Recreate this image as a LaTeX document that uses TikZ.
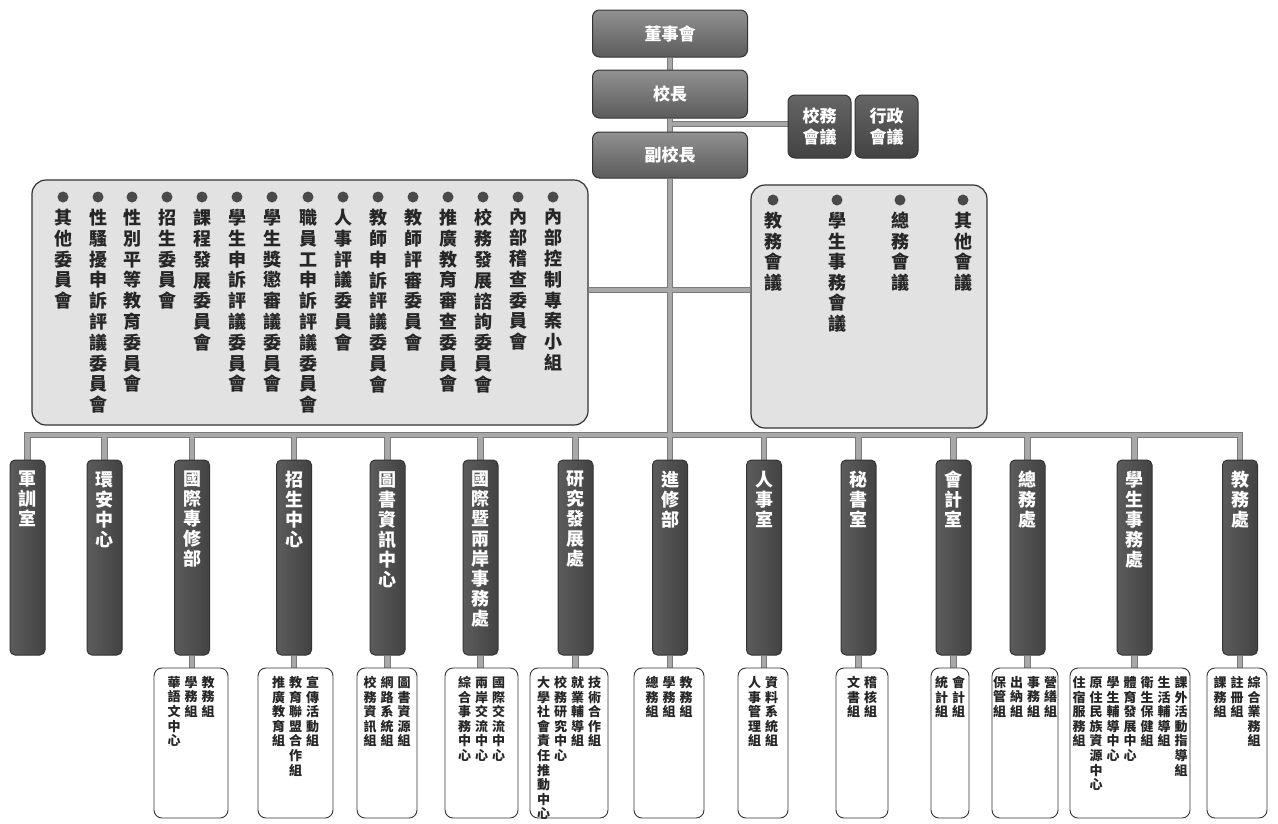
\documentclass[tikz,border=0pt]{standalone}
\usepackage{fontspec}
\setmainfont{Noto Sans CJK TC}
\usetikzlibrary{backgrounds}
\definecolor{conn}{HTML}{A8A8A8}
\definecolor{connD}{HTML}{7A7A7A}
\definecolor{deptC}{HTML}{4A4A4A}
\definecolor{topC}{HTML}{6C6C6C}
\definecolor{panelC}{HTML}{E2E2E2}
\definecolor{edgeC}{HTML}{333333}
\ExplSyntaxOn
\NewDocumentCommand \VT { O{1.1em} m }
 {
   \tl_set:Nx \l_tmpa_tl {#2}
   \vbox_top:n
    {
      \skip_set:Nn \baselineskip {#1}
      \dim_set:Nn \lineskiplimit {-100pt}
      \tl_map_inline:Nn \l_tmpa_tl { \hbox_to_wd:nn {1em} { \hss ##1 \hss } }
    }
 }
\NewDocumentCommand \SC { m }
 {
   \clist_set:Nn \l_tmpa_clist {#1}
   \int_zero:N \l_tmpa_int
   \clist_map_inline:Nn \l_tmpa_clist
     {
       \int_compare:nNnT \l_tmpa_int > 0 { \hspace*{4pt} }
       \int_incr:N \l_tmpa_int
       \VT[14.6pt]{##1}
     }
 }
\ExplSyntaxOff
\tikzset{
  topbox/.style={draw=edgeC, line width=1pt, rounded corners=7pt,
    top color=topC!75!white, bottom color=topC!85!black, text=white,
    font=\bfseries\fontsize{17}{20}\selectfont, minimum width=155pt, inner sep=0pt},
  sidebox/.style={draw=edgeC, line width=1pt, rounded corners=7pt,
    top color=deptC!85!white, bottom color=deptC!90!black, text=white, align=center,
    font=\bfseries\fontsize{17}{21}\selectfont, minimum width=63pt, minimum height=63pt, inner sep=0pt},
  dept/.style={draw=edgeC, line width=1pt, rounded corners=5pt,
    left color=deptC!90!white, right color=deptC!90!black, minimum width=35pt, minimum height=195pt, inner sep=0pt},
  depttext/.style={text=white, font=\bfseries\fontsize{18}{20}\selectfont, inner sep=0pt, anchor=north},
  panel/.style={draw=edgeC, line width=1.2pt, fill=panelC, rounded corners=14pt, inner sep=0pt},
  ptext/.style={text=black!85, font=\bfseries\fontsize{18}{21}\selectfont, inner sep=0pt, anchor=north},
  bullet/.style={circle, fill=deptC, minimum size=11pt, inner sep=0pt},
  subbox/.style={draw=edgeC, line width=0.9pt, fill=white, rounded corners=8pt, minimum height=150pt, inner sep=0pt},
  stext/.style={font=\bfseries\fontsize{13}{15}\selectfont, inner sep=0pt, anchor=north, text=black!85},
}
\begin{document}
\begin{tikzpicture}[x=1pt,y=-1pt]
\useasboundingbox (0,0) rectangle (1278,823);
% top
\node[topbox, minimum height=47pt] (board) at (670,33.5) {董事會};
\node[topbox, minimum height=48pt] (pres) at (670,94) {校長};
\node[topbox, minimum height=46pt] (vp) at (670,155) {副校長};
\node[sidebox] (c1) at (819.5,126.5) {校務\\會議};
\node[sidebox] (c2) at (886.5,126.5) {行政\\會議};
\coordinate (jc) at (670,124);
\coordinate (jp) at (670,290);
\coordinate (bus) at (670,435);
\coordinate (busL) at (27.5,435);
\coordinate (busR) at (1240,435);
% panels
\node[panel, minimum width=556pt, minimum height=245pt] (L) at (310,302.5) {};
\node[panel, minimum width=236pt, minimum height=243pt] (R) at (869,306.5) {};
\foreach \x/\t [count=\i] in {553/內部控制專案小組,518/內部稽查委員會,483/校務發展諮詢委員會,448/推廣教育審查委員會,413/教師評審委員會,378/教師申訴評議委員會,343/人事評議委員會,308/職員工申訴評議委員會,272/學生獎懲審議委員會,237/學生申訴評議委員會,202/課程發展委員會,167/招生委員會,132/性別平等教育委員會,98/性騷擾申訴評議委員會,63/其他委員會}{
  \node[bullet] (lb\i) at (\x,197) {};
  \node[ptext] (lt\i) at (\x,209) {\VT[20.8pt]{\t}};
}
\foreach \x/\t [count=\i] in {773/教務會議,837/學生事務會議,900/總務會議,963/其他會議}{
  \node[bullet] (rb\i) at (\x,200) {};
  \node[ptext] (rt\i) at (\x,212) {\VT[20.6pt]{\t}};
}
% departments
\foreach \x/\t/\n in {27.5/軍訓室/d1,104.5/環安中心/d2,192/國際專修部/d3,294/招生中心/d4,387.5/圖書資訊中心/d5,480.5/國際暨兩岸事務處/d6,575.5/研究發展處/d7,670/進修部/d8,764/人事室/d9,858.5/秘書室/d10,953.5/會計室/d11,1027.5/總務處/d12,1134.5/學生事務處/d13,1240/教務處/d14}{
  \node[dept] (\n) at (\x,557.5) {};
  \node[depttext] (\n t) at (\x,471) {\VT[20pt]{\t}};
}
% sub boxes
\node[subbox, minimum width=74pt] (s3) at (191,743) {};
\node[subbox, minimum width=75pt] (s4) at (295.5,743) {};
\node[subbox, minimum width=60pt] (s5) at (387,743) {};
\node[subbox, minimum width=73pt] (s6) at (481.5,743) {};
\node[subbox, minimum width=78pt] (s7) at (569,743) {};
\node[subbox, minimum width=70pt] (s8) at (669,743) {};
\node[subbox, minimum width=50pt] (s9) at (763,743) {};
\node[subbox, minimum width=52pt] (s10) at (862,743) {};
\node[subbox, minimum width=38pt] (s11) at (950,743) {};
\node[subbox, minimum width=66pt] (s12) at (1025,743) {};
\node[subbox, minimum width=120pt] (s13) at (1130,743) {};
\node[subbox, minimum width=60pt] (s14) at (1237,743) {};
\node[stext] (s3t) at ([yshift=-8.5pt]s3.north) {\SC{華語文中心,學務組,教務組}};
\node[stext] (s4t) at ([yshift=-8.5pt]s4.north) {\SC{推廣教育組,教育聯盟合作組,宣傳活動組}};
\node[stext] (s5t) at ([yshift=-8.5pt]s5.north) {\SC{校務資訊組,網路系統組,圖書資源組}};
\node[stext] (s6t) at ([yshift=-8.5pt]s6.north) {\SC{綜合事務中心,兩岸交流中心,國際交流中心}};
\node[stext] (s7t) at ([yshift=-8.5pt]s7.north) {\SC{大學社會責任推動中心,校務研究中心,就業輔導組,技術合作組}};
\node[stext] (s8t) at ([yshift=-8.5pt]s8.north) {\SC{總務組,學務組,教務組}};
\node[stext] (s9t) at ([yshift=-8.5pt]s9.north) {\SC{人事管理組,資料系統組}};
\node[stext] (s10t) at ([yshift=-8.5pt]s10.north) {\SC{文書組,稽核組}};
\node[stext] (s11t) at ([yshift=-8.5pt]s11.north) {\SC{統計組,會計組}};
\node[stext] (s12t) at ([yshift=-8.5pt]s12.north) {\SC{保管組,出納組,事務組,營繕組}};
\node[stext] (s13t) at ([yshift=-8.5pt]s13.north) {\SC{住宿服務組,原住民族資源中心,學生輔導中心,體育發展中心,衛生保健組,生活輔導組,課外活動指導組}};
\node[stext] (s14t) at ([yshift=-8.5pt]s14.north) {\SC{課務組,註冊組,綜合業務組}};
% connectors
\begin{scope}[on background layer]
\fill[white] (0,0) rectangle (1278,823);
\foreach \w/\c in {6.5pt/connD,4.5pt/conn}{
  \draw[line width=\w, color=\c] (board) -- (pres);
  \draw[line width=\w, color=\c] (pres) -- (vp);
  \draw[line width=\w, color=\c] (jc) -- (jc -| c1.west);
  \draw[line width=\w, color=\c] (vp) -- (bus);
  \draw[line width=\w, color=\c] (jp -| L.east) -- (jp -| R.west);
  \draw[line width=\w, color=\c, line cap=rect] (busL) -- (busR);
  \foreach \d in {d1,d2,d3,d4,d5,d6,d7,d8,d9,d10,d11,d12,d13,d14}{
    \draw[line width=\w, color=\c] (\d.north |- busL) -- (\d.north);
  }
  \foreach \d/\s in {d3/s3,d4/s4,d5/s5,d6/s6,d7/s7,d8/s8,d9/s9,d10/s10,d11/s11,d12/s12,d13/s13,d14/s14}{
    \draw[line width=\w, color=\c] (\d.south) -- (\d.south |- \s.north);
  }
}
\end{scope}
\end{tikzpicture}
\end{document}
